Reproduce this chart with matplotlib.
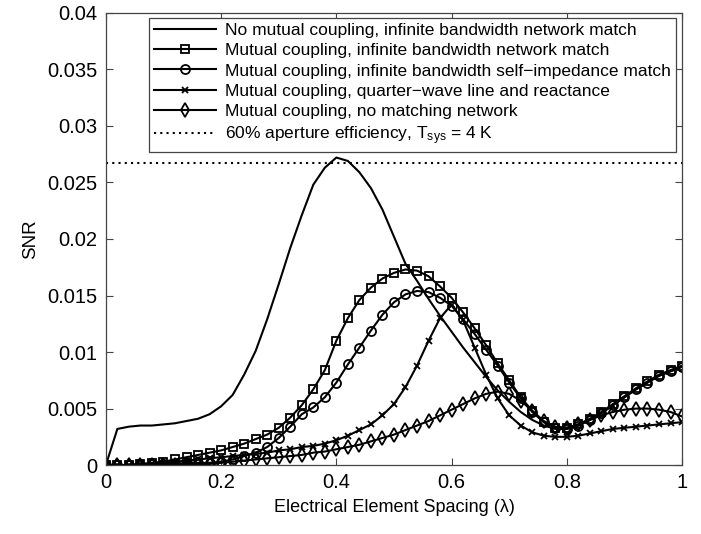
import numpy as np
import matplotlib
matplotlib.use('Agg')
import matplotlib.pyplot as plt
from matplotlib.ticker import FuncFormatter

plt.rcParams['font.family'] = ['Liberation Sans', 'DejaVu Sans']
plt.rcParams['mathtext.fontset'] = 'custom'
plt.rcParams['mathtext.rm'] = 'Liberation Sans'
plt.rcParams['mathtext.it'] = 'Liberation Sans'

# element spacing in wavelengths
spacing = np.round(np.arange(0, 1.0001, 0.02), 2)

# no mutual coupling, infinite bandwidth network match
snr_no_coupling = [0.0, 0.0032, 0.0034, 0.0035, 0.0035, 0.0036, 0.0037, 0.0039, 0.0041, 0.0045,
                   0.0052, 0.0062, 0.0080, 0.0101, 0.0129, 0.0160, 0.0192, 0.0221, 0.0248, 0.0263,
                   0.0272, 0.0269, 0.0259, 0.0245, 0.0226, 0.0202, 0.0178, 0.0163, 0.0147, 0.0132,
                   0.0118, 0.0104, 0.0091, 0.0078, 0.0066, 0.0056, 0.0047, 0.0040, 0.0035, 0.0032,
                   0.0032, 0.0035, 0.0040, 0.0046, 0.0053, 0.0060, 0.0067, 0.0073, 0.0079, 0.0083,
                   0.0087]

# mutual coupling, infinite bandwidth network match
snr_network = [0.0, 0.0, 0.0, 0.0001, 0.0002, 0.0003, 0.0005, 0.0007, 0.0009, 0.0011,
               0.0013, 0.0016, 0.0019, 0.0023, 0.0027, 0.0033, 0.0042, 0.0053, 0.0067, 0.0084,
               0.0110, 0.0130, 0.0146, 0.0157, 0.0165, 0.0170, 0.0173, 0.0172, 0.0167, 0.0158,
               0.0148, 0.0135, 0.0121, 0.0106, 0.0090, 0.0075, 0.0060, 0.0048, 0.0038, 0.0033,
               0.0033, 0.0036, 0.0041, 0.0047, 0.0054, 0.0061, 0.0068, 0.0074, 0.0080, 0.0084,
               0.0088]

# mutual coupling, infinite bandwidth self-impedance match
snr_self_imp = [0.0, 0.0, 0.0, 0.0, 0.0001, 0.0001, 0.0001, 0.0002, 0.0002, 0.0002,
                0.0003, 0.0005, 0.0008, 0.0011, 0.0016, 0.0024, 0.0034, 0.0045, 0.0051, 0.0060,
                0.0073, 0.0089, 0.0104, 0.0119, 0.0133, 0.0144, 0.0151, 0.0154, 0.0153, 0.0148,
                0.0141, 0.0129, 0.0116, 0.0102, 0.0088, 0.0073, 0.0059, 0.0047, 0.0038, 0.0033,
                0.0032, 0.0035, 0.0040, 0.0046, 0.0053, 0.0060, 0.0067, 0.0073, 0.0079, 0.0083,
                0.0087]

# mutual coupling, quarter-wave line and reactance
snr_quarter = [0.0, 0.0, 0.0, 0.0001, 0.0001, 0.0002, 0.0003, 0.0004, 0.0005, 0.0006,
               0.0007, 0.0008, 0.0009, 0.0010, 0.0011, 0.0013, 0.0014, 0.0016, 0.0017, 0.0019,
               0.0022, 0.0026, 0.0031, 0.0036, 0.0044, 0.0054, 0.0069, 0.0088, 0.0110, 0.0130,
               0.0142, 0.0128, 0.0104, 0.0080, 0.0059, 0.0044, 0.0035, 0.0029, 0.0026, 0.0025,
               0.0025, 0.0026, 0.0028, 0.0030, 0.0032, 0.0033, 0.0034, 0.0035, 0.0036, 0.0037,
               0.0038]

# mutual coupling, no matching network
snr_no_match = [0.0, 0.0, 0.0, 0.0, 0.0, 0.0, 0.0, 0.0001, 0.0001, 0.0001,
                0.0002, 0.0003, 0.0004, 0.0005, 0.0006, 0.0007, 0.0008, 0.0009, 0.0011, 0.0012,
                0.0014, 0.0016, 0.0018, 0.0021, 0.0024, 0.0027, 0.0031, 0.0035, 0.0039, 0.0044,
                0.0049, 0.0054, 0.0059, 0.0063, 0.0065, 0.0063, 0.0057, 0.0048, 0.0039, 0.0034,
                0.0033, 0.0036, 0.0040, 0.0044, 0.0047, 0.0049, 0.0050, 0.0050, 0.0049, 0.0047,
                0.0043]

# 60% aperture efficiency reference level
snr_aperture = 0.0267

labels = ['No mutual coupling, infinite bandwidth network match',
          'Mutual coupling, infinite bandwidth network match',
          'Mutual coupling, infinite bandwidth self\u2212impedance match',
          'Mutual coupling, quarter\u2212wave line and reactance',
          'Mutual coupling, no matching network',
          r'60% aperture efficiency, T$_{\rm sys}$ = 4 K']

fig = plt.figure(figsize=(7.01, 5.34), dpi=100)
ax = fig.add_axes([0.151, 0.129, 0.822, 0.847])

lw = 1.5
ax.plot(spacing, snr_no_coupling, color='k', lw=lw, label=labels[0])
ax.plot(spacing, snr_network, color='k', lw=lw, marker='s', ms=5.5,
        mfc='none', mew=1.3, label=labels[1])
ax.plot(spacing, snr_self_imp, color='k', lw=lw, marker='o', ms=6.5,
        mfc='none', mew=1.3, label=labels[2])
ax.plot(spacing, snr_quarter, color='k', lw=lw, marker='x', ms=5,
        mew=1.3, label=labels[3])
ax.plot(spacing, snr_no_match, color='k', lw=lw, marker='d', ms=7,
        mfc='none', mew=1.3, label=labels[4])
ax.plot([0, 1], [snr_aperture, snr_aperture], color='k', lw=1.5,
        ls=(0, (1, 2.0)), label=labels[5])

ax.set_xlim(0, 1)
ax.set_ylim(0, 0.04)
ax.set_xticks(np.arange(0, 1.01, 0.2))
ax.set_yticks(np.arange(0, 0.0401, 0.005))
ax.xaxis.set_major_formatter(FuncFormatter(lambda v, p: '%g' % round(v, 3)))
ax.yaxis.set_major_formatter(FuncFormatter(lambda v, p: '%g' % round(v, 4)))
ax.tick_params(direction='in', top=True, right=True, length=5, labelsize=14.5,
               color='#444444', pad=6)
for s in ax.spines.values():
    s.set_color('#444444')
    s.set_linewidth(0.9)

ax.set_xlabel('Electrical Element Spacing (\u03bb)', fontsize=13, labelpad=5)
ax.set_ylabel('SNR', fontsize=13.5, labelpad=6)

leg = ax.legend(loc='upper right', bbox_to_anchor=(0.9895, 0.989), fontsize=12.5,
                numpoints=1, handlelength=3.6, handletextpad=0.5, labelspacing=0.29,
                borderpad=0.3, fancybox=False, framealpha=1, edgecolor='#444444',
                borderaxespad=0)
leg.get_frame().set_linewidth(0.9)

plt.savefig('out.png', dpi=100)
